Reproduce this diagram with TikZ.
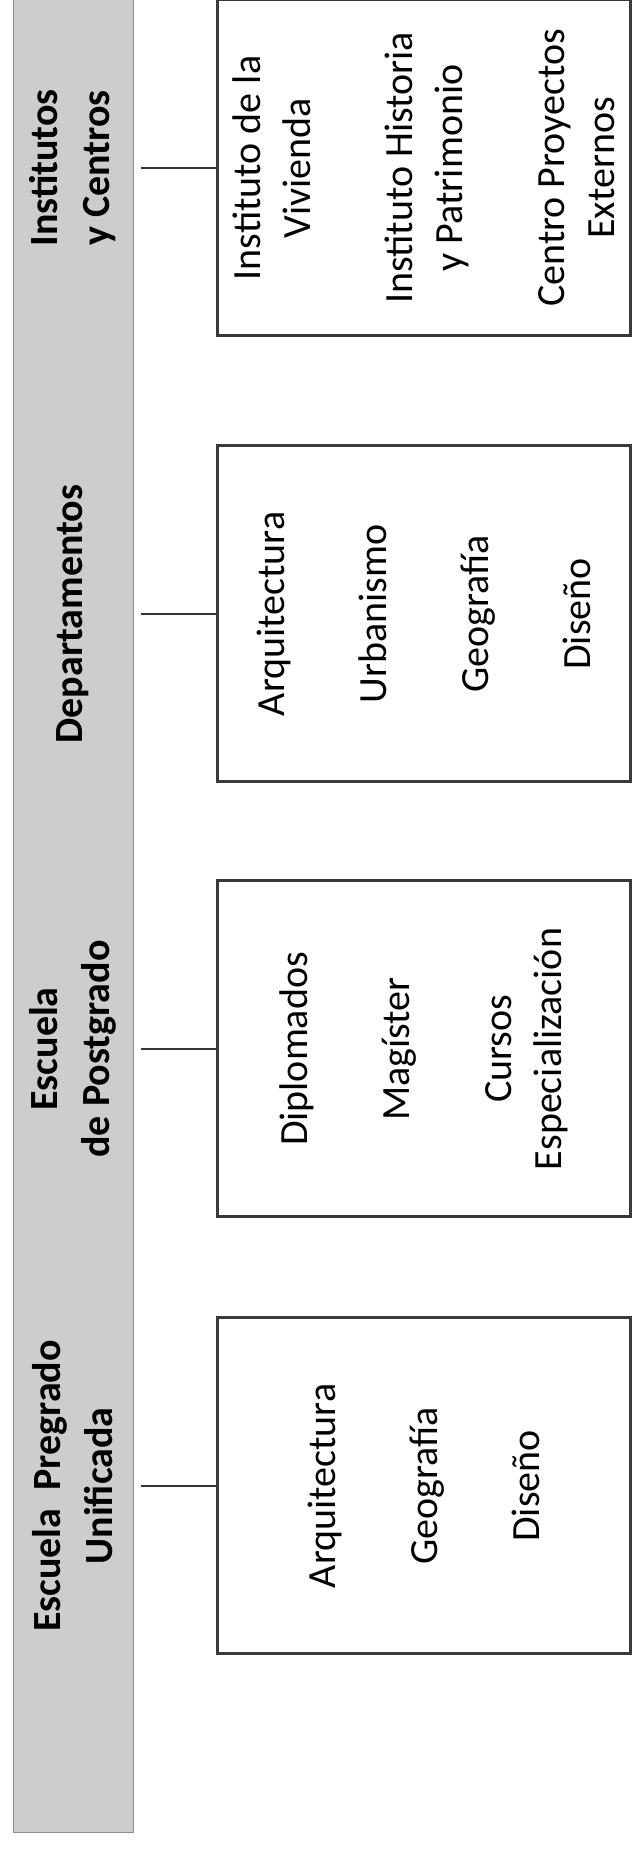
\documentclass[tikz,border=0pt]{standalone}
\usepackage{fontspec}
\setmainfont{Carlito}
\usetikzlibrary{positioning}
\definecolor{bandgray}{HTML}{CDCDCD}
\definecolor{edgegray}{HTML}{3A3A3A}

\begin{document}
\begin{tikzpicture}[x=1pt, y=1pt,
  band/.style={draw=black!45, line width=0.5pt, fill=bandgray, minimum width=60pt,
               minimum height=916.5pt, inner sep=0pt},
  head/.style={rotate=90, align=center, font=\fontsize{20}{26}\selectfont\bfseries, text=black},
  unit/.style={rotate=90, draw=edgegray, line width=1.5pt, fill=white, align=center,
               minimum width=168pt, minimum height=206.5pt, inner sep=0pt,
               font=\fontsize{20}{25}\selectfont, text=black},
  link/.style={draw=black!80, line width=0.7pt, shorten <=3.5pt},
]
\useasboundingbox (0,0) rectangle (316,925);

% Gray band with the four headings
\node[band] (band) at (36.5,466.75) {};
\node[head] (hinst) at (36.5,841)   {Institutos\\y Centros};
\node[head] (hdept) at (36.5,618)   {Departamentos};
\node[head] (hpost) at (36.5,400.5) {Escuela\\de Postgrado};
\node[head] (hpreg) at (36.5,182)   {Escuela~ Pregrado\\Unificada};

% Boxes (rotated: their north side faces the band)
\node[unit] (inst) at (211.75,841)   {Instituto de la\\Vivienda\\[26pt]
  Instituto Historia\\y Patrimonio\\[26pt] Centro Proyectos\\Externos};
\node[unit] (dept) at (211.75,618)   {Arquitectura\\[26pt] Urbanismo\\[26pt]
  Geografía\\[26pt] Diseño};
\node[unit] (post) at (211.75,400.5) {Diplomados\\[26pt] Magíster\\[26pt]
  Cursos\\Especialización};
\node[unit] (preg) at (211.75,182)   {Arquitectura\\[26pt] Geografía\\[26pt] Diseño};

% Connectors
\foreach \b in {inst,dept,post,preg}
  \draw[link] (band.east |- \b.north) -- (\b.north);

\end{tikzpicture}
\end{document}
